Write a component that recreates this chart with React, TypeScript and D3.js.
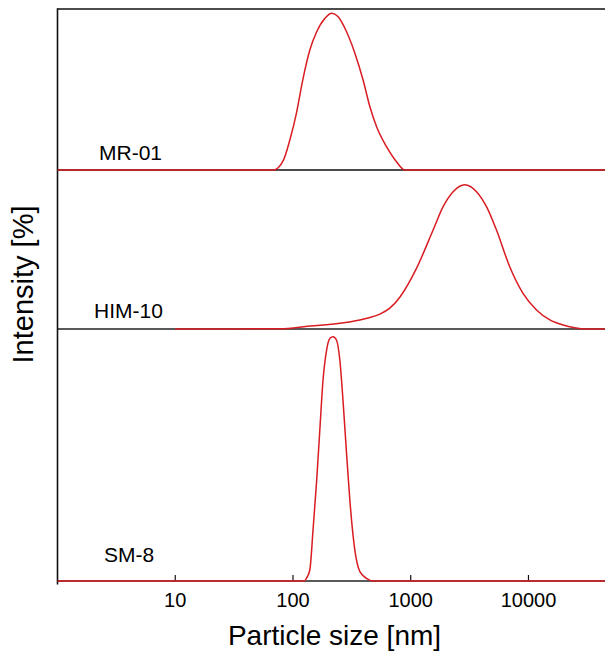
import React from "react";
import * as d3 from "d3";

// ---- data (particle size in nm, intensity in %) ----
const mrSize = [1, 68, 83, 94, 107, 121, 139, 159, 187, 213, 242, 285, 335, 394, 450, 513, 623, 757, 891, 45000];
const mrIntensity = [0, 0, 0.99, 2.98, 5.66, 8.94, 11.93, 13.74, 15.08, 15.57, 15.23, 13.74, 11.63, 8.94, 6.29, 4.3, 2.32, 0.82, 0.0, 0];

const himSize = [10, 77, 139, 250, 370, 450, 547, 664, 808, 1119, 1549, 1884, 2291, 2880, 3620, 4400, 5350, 6930, 8990, 11700, 15200, 19700, 24700, 30000, 45000];
const himIntensity = [0, 0.02, 0.3, 0.57, 0.91, 1.15, 1.5, 2.1, 3.2, 6.1, 9.96, 12.31, 13.82, 14.52, 13.82, 12.31, 9.96, 6.27, 3.59, 1.91, 0.91, 0.4, 0.13, 0, 0];

const smSize = [1, 125, 130, 139, 148, 159, 169, 180, 193, 206, 219, 234, 250, 267, 285, 304, 335, 370, 421, 480, 45000];
const smIntensity = [0, 0, 0.34, 1.4, 6.48, 12.83, 19.17, 25.52, 29.33, 30.82, 31.02, 30.6, 28.06, 22.56, 16.21, 10.29, 3.94, 1.18, 0.34, 0.0, 0];

const sampleNames = ["MR-01", "HIM-10", "SM-8"];
const xTicks = [10, 100, 1000, 10000];
const xTitle = "Particle size [nm]";
const yTitle = "Intensity [%]";

const W = 605;
const H = 651;
const left = 57.5;
const right = 605;
const top = 9;
const b1 = 170;
const b2 = 329;
const b3 = 581;

const FONT = "'Liberation Sans', Arial, Helvetica, sans-serif";
const RED = "#d81c22";

export default function App() {
  const x = d3.scaleLog().domain([1, 44668]).range([left, right]);
  const y1 = d3.scaleLinear().domain([0, 16]).range([b1, top]);
  const y2 = d3.scaleLinear().domain([0, 16]).range([b2, b1]);
  const y3 = d3.scaleLinear().domain([0, 32]).range([b3, b2]);

  const mk = (sizes: number[], vals: number[], y: d3.ScaleLinear<number, number>) =>
    d3
      .line<number>()
      .x((_, i) => x(sizes[i]))
      .y((v) => y(v))
      .curve(d3.curveMonotoneX)(vals) as string;

  const panels = [
    { path: mk(mrSize, mrIntensity, y1), label: sampleNames[0], lx: 99, ly: 160 },
    { path: mk(himSize, himIntensity, y2), label: sampleNames[1], lx: 94, ly: 318 },
    { path: mk(smSize, smIntensity, y3), label: sampleNames[2], lx: 104, ly: 562 },
  ];

  return (
    <svg
      width={W}
      height={H}
      viewBox={`0 0 ${W} ${H}`}
      style={{ position: "absolute", left: 0, top: 0, background: "#fff" }}
    >
      <rect x={0} y={0} width={W} height={H} fill="#fff" />
      <line x1={left} x2={right} y1={top} y2={top} stroke="#111" strokeWidth={1.6} />
      <line x1={left} x2={right} y1={b1} y2={b1} stroke="#111" strokeWidth={1.6} />
      <line x1={left} x2={right} y1={b2} y2={b2} stroke="#222" strokeWidth={1.6} />
      <line x1={left} x2={right} y1={b3} y2={b3} stroke="#222" strokeWidth={1.6} />
      <line x1={left} x2={left} y1={top - 0.8} y2={b3 + 3.5} stroke="#111" strokeWidth={1.6} />
      {xTicks.map((t) => (
        <g key={t}>
          <line x1={x(t)} x2={x(t)} y1={b3} y2={b3 - 6} stroke="#111" strokeWidth={1.2} />
          <text x={x(t)} y={607} textAnchor="middle" fontFamily={FONT} fontSize={20} fill="#000">
            {t}
          </text>
        </g>
      ))}
      {panels.map((p) => (
        <g key={p.label}>
          <path d={p.path} fill="none" stroke={RED} strokeWidth={1.5} />
          <text x={p.lx} y={p.ly} fontFamily={FONT} fontSize={21} fill="#000">
            {p.label}
          </text>
        </g>
      ))}
      <text x={334.5} y={645} textAnchor="middle" fontFamily={FONT} fontSize={28} fill="#000">
        {xTitle}
      </text>
      <text
        transform={`translate(33,284.5) rotate(-90)`}
        textAnchor="middle"
        fontFamily={FONT}
        fontSize={29}
        fill="#000"
      >
        {yTitle}
      </text>
    </svg>
  );
}
